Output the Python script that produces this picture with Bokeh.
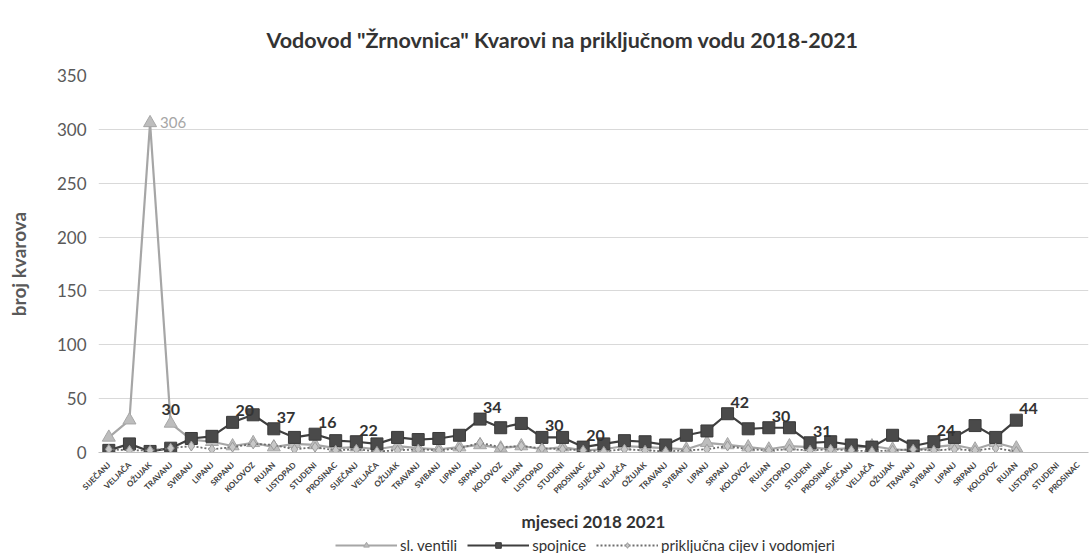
from bokeh.plotting import figure
from bokeh.embed import file_html
from bokeh.resources import INLINE
from bokeh.layouts import column
from bokeh.models import Range1d, FixedTicker, Legend, LegendItem, ColumnDataSource
from bokeh.core.properties import value
import math

months = ["SIJEČANJ", "VELJAČA", "OŽUJAK", "TRAVANJ", "SVIBANJ", "LIPANJ",
          "SRPANJ", "KOLOVOZ", "RUJAN", "LISTOPAD", "STUDENI", "PROSINAC"]
categories = months * 4  # 2018-2021

sl_ventili = [14, 30, 306, 27, 12, 10, 6, 9, 5, 8, 7, 4, 5, 3, 6, 4, 3, 5, 7, 4,
              6, 3, 5, 2, 3, 6, 5, 4, 3, 9, 7, 5, 3, 6, 5, 3, 4, 6, 3, 2,
              5, 7, 3, 9, 4]
spojnice = [2, 8, 1, 4, 13, 15, 28, 35, 22, 14, 17, 11, 10, 8, 14, 12, 13, 16, 31, 23,
            27, 14, 14, 5, 8, 11, 10, 7, 16, 20, 36, 22, 23, 23, 9, 10, 7, 5, 16, 6,
            10, 14, 25, 14, 30]
prikljucna = [3, 2, 2, 4, 6, 3, 5, 8, 7, 3, 5, 2, 3, 1, 2, 3, 2, 4, 9, 5,
              6, 4, 3, 2, 1, 3, 2, 1, 2, 3, 6, 3, 2, 3, 2, 3, 2, 1, 2, 3,
              2, 3, 2, 4, 1]

# data labels as printed on the chart
sp_label_idx = [6, 8, 10, 12, 18, 21, 23, 30, 32, 34, 40, 44]
sp_label_txt = ["20", "37", "16", "22", "34", "30", "20", "42", "30", "31", "24", "44"]
sv_label_idx = [2]
sv_label_txt = ["306"]
sv2_label_idx = [3]
sv2_label_txt = ["30"]

series_names = ["sl. ventili", "spojnice", "priključna cijev i vodomjeri"]

y_ticks = [0, 50, 100, 150, 200, 250, 300, 350]

FONT = "Lato"

# styles
SV = dict(line=dict(line_color="#a6a6a6", line_width=2.2),
          mark=dict(marker="triangle", size=13, fill_color="#bdbdbd", line_color="#a6a6a6"))
SP = dict(line=dict(line_color="#3f3f3f", line_width=2.2),
          mark=dict(marker="square", size=12, fill_color="#4a4a4a", line_color="#3a3a3a"))
PC = dict(line=dict(line_color="#6e6e6e", line_width=1.8, line_dash="2 2"),
          mark=dict(marker="diamond", size=10, fill_color="#c8c8c8", line_color="#9a9a9a"))

p = figure(frame_width=990, frame_height=377, output_backend="svg", toolbar_location=None,
           x_range=Range1d(-0.5, len(categories) - 0.5), y_range=Range1d(0, 350),
           min_border_left=98, min_border_right=3, min_border_top=75, min_border_bottom=76)

p.title.text = 'Vodovod "Žrnovnica" Kvarovi na priključnom vodu 2018-2021'
p.title.align = "left"
p.title.offset = 168
p.title.text_font = FONT
p.title.text_font_size = "21.5px"
p.title.text_font_style = "bold"
p.title.text_color = "#333333"
p.title.standoff = 46

p.outline_line_color = None
p.background_fill_color = "white"
p.border_fill_color = "white"

p.xgrid.grid_line_color = None
p.ygrid.grid_line_color = "#d9d9d9"
p.ygrid.ticker = FixedTicker(ticks=y_ticks)

p.yaxis.ticker = FixedTicker(ticks=y_ticks)
p.yaxis.axis_line_color = None
p.yaxis.major_tick_line_color = None
p.yaxis.minor_tick_line_color = None
p.yaxis.major_label_text_font = FONT
p.yaxis.major_label_text_font_size = "17px"
p.yaxis.major_label_text_color = "#595959"
p.yaxis.major_label_standoff = 6
p.yaxis.axis_label = "broj kvarova"
p.yaxis.axis_label_text_font = FONT
p.yaxis.axis_label_text_font_size = "19px"
p.yaxis.axis_label_text_font_style = "bold"
p.yaxis.axis_label_text_color = "#595959"
p.yaxis.axis_label_standoff = 24

xs = list(range(len(categories)))
p.xaxis.ticker = FixedTicker(ticks=xs)
p.xaxis.major_label_overrides = {i: c for i, c in enumerate(categories)}
p.xaxis.major_label_orientation = math.pi / 4
p.xaxis.major_label_text_font = FONT
p.xaxis.major_label_text_font_size = "8px"
p.xaxis.major_label_text_font_style = "bold"
p.xaxis.major_label_text_color = "#404040"
p.xaxis.axis_line_color = "#bfbfbf"
p.xaxis.major_tick_line_color = None
p.xaxis.minor_tick_line_color = None
p.xaxis.axis_label = "mjeseci 2018 2021"
p.xaxis.axis_label_text_font = FONT
p.xaxis.axis_label_text_font_size = "17px"
p.xaxis.axis_label_text_font_style = "bold"
p.xaxis.axis_label_text_color = "#333333"
p.xaxis.axis_label_standoff = 9

n = len(sl_ventili)
x_data = xs[:n]

sv_src = ColumnDataSource(dict(x=x_data, y=sl_ventili))
sp_src = ColumnDataSource(dict(x=x_data, y=spojnice))
pc_src = ColumnDataSource(dict(x=x_data, y=prikljucna))

p.line("x", "y", source=sv_src, **SV["line"])
p.scatter("x", "y", source=sv_src, **SV["mark"])
p.line("x", "y", source=sp_src, **SP["line"])
p.scatter("x", "y", source=sp_src, **SP["mark"])
p.line("x", "y", source=pc_src, **PC["line"])
p.scatter("x", "y", source=pc_src, **PC["mark"])

# data labels
sp_lab = ColumnDataSource(dict(x=sp_label_idx, y=[spojnice[i] for i in sp_label_idx], t=sp_label_txt))
p.text("x", "y", text="t", source=sp_lab, text_font=value(FONT), text_font_size="16px",
       text_font_style="bold", text_color="#333333", text_align="left",
       text_baseline="bottom", x_offset=3, y_offset=-6)
sv_lab = ColumnDataSource(dict(x=sv_label_idx, y=[sl_ventili[i] for i in sv_label_idx], t=sv_label_txt))
p.text("x", "y", text="t", source=sv_lab, text_font=value(FONT), text_font_size="15px",
       text_color="#a6a6a6", text_align="left", text_baseline="middle", x_offset=10, y_offset=0)
sv2_lab = ColumnDataSource(dict(x=sv2_label_idx, y=[sl_ventili[i] for i in sv2_label_idx], t=sv2_label_txt))
p.text("x", "y", text="t", source=sv2_lab, text_font=value(FONT), text_font_size="16px",
       text_font_style="bold", text_color="#333333", text_align="center",
       text_baseline="bottom", x_offset=0, y_offset=-8)

# legend strip below the chart (proxy glyphs lie outside the strip's visible range)
p2 = figure(width=1091, height=25, output_backend="svg", toolbar_location=None,
            x_range=Range1d(0, 1), y_range=Range1d(0, 1), min_border=0)
p2.axis.visible = False
p2.grid.visible = False
p2.outline_line_color = None
items = []
for name, st in zip(series_names, [SV, SP, PC]):
    src = ColumnDataSource(dict(x=[5, 6], y=[5, 6]))
    r1 = p2.line("x", "y", source=src, **st["line"])
    r2 = p2.scatter("x", "y", source=src, **st["mark"])
    items.append(LegendItem(label=name, renderers=[r1, r2]))

legend = Legend(items=items, orientation="horizontal", location=(237, 5))
legend.label_text_font = FONT
legend.label_text_font_size = "15px"
legend.label_text_color = "#333333"
legend.border_line_color = None
legend.background_fill_alpha = 0
legend.glyph_width = 62
legend.glyph_height = 14
legend.label_height = 18
legend.label_standoff = 3
legend.spacing = 10
legend.padding = 0
legend.margin = 0
p2.add_layout(legend, "center")

layout = column(p, p2, spacing=0)
open("out.html", "w").write(file_html(layout, INLINE))
